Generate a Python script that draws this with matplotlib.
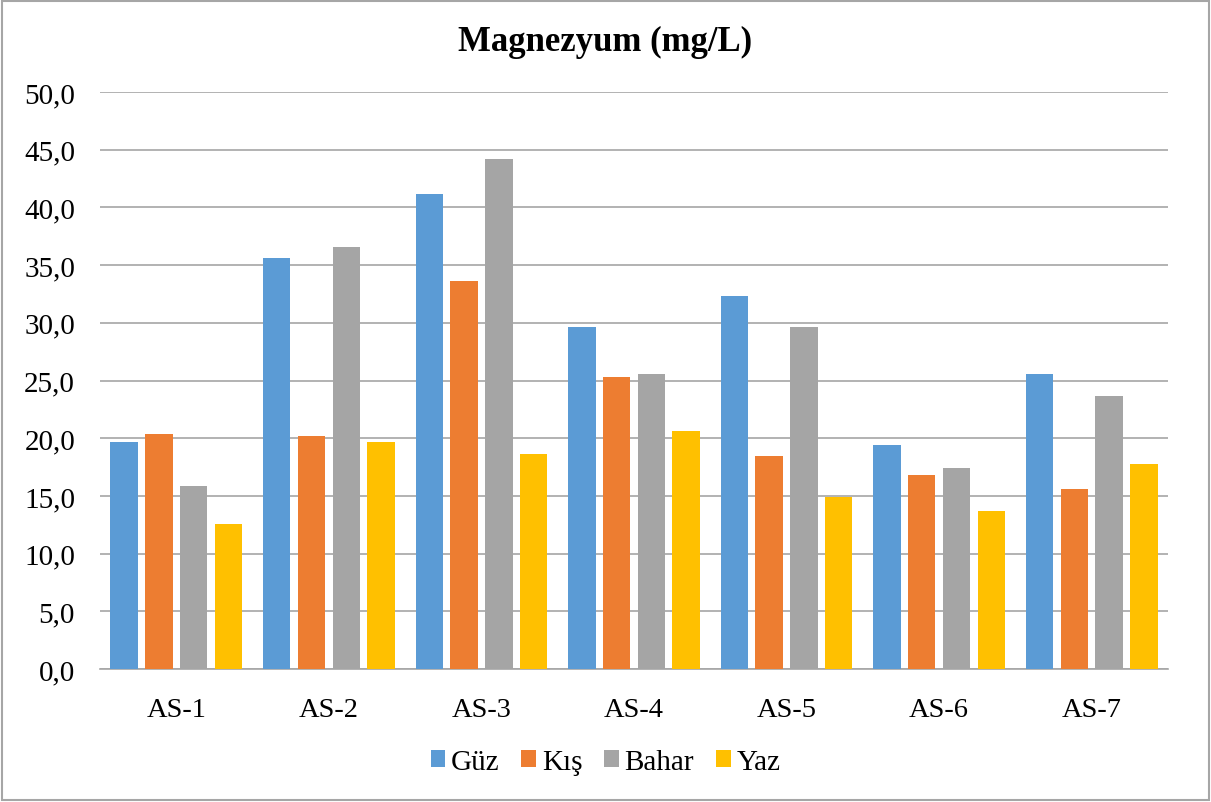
import numpy as np
import matplotlib
matplotlib.use("Agg")
from matplotlib import pyplot as plt
from matplotlib.patches import Rectangle
from matplotlib.ticker import FuncFormatter

stations = ["AS-1", "AS-2", "AS-3", "AS-4", "AS-5", "AS-6", "AS-7"]
guz = [19.7, 35.6, 41.2, 29.6, 32.3, 19.4, 25.6]
kis = [20.4, 20.2, 33.6, 25.3, 18.5, 16.8, 15.6]
bahar = [15.9, 36.6, 44.2, 25.6, 29.6, 17.4, 23.7]
yaz = [12.6, 19.7, 18.6, 20.6, 14.9, 13.7, 17.8]

series = [("Güz", guz, "#5b9bd5"), ("Kış", kis, "#ed7d31"),
          ("Bahar", bahar, "#a5a5a5"), ("Yaz", yaz, "#ffc000")]

plt.rcParams['font.family'] = ['Liberation Serif', 'DejaVu Serif']

fig = plt.figure(figsize=(12.11, 8.03), dpi=100)
ax = fig.add_axes([100 / 1211, 1 - 670 / 803, 1068 / 1211, 577 / 803])

x = np.arange(len(stations))
width = 0.18
step = 0.228
for i, (name, vals, col) in enumerate(series):
	ax.bar(x + (i - 1.5) * step, vals, width, color=col, label=name, zorder=3)

ax.set_xlim(-0.5, len(stations) - 0.5)
ax.set_ylim(0, 50)
ax.set_yticks(np.arange(0, 51, 5))
ax.yaxis.set_major_formatter(FuncFormatter(lambda v, p: f"{v:.1f}".replace(".", ",")))
ax.set_xticks(x)
ax.set_xticklabels(stations)
ax.tick_params(axis='both', length=0, colors='black')
ax.tick_params(axis='y', labelsize=21, pad=18)
ax.tick_params(axis='x', labelsize=20.5, pad=20)
ax.grid(axis='y', color='#a6a6a6', linewidth=1.2, zorder=0)
for s in ['top', 'right', 'left']:
	ax.spines[s].set_visible(False)
ax.spines['bottom'].set_color('#a6a6a6')
ax.spines['bottom'].set_linewidth(1.2)

fig.text(0.5, 1 - 42 / 803, "Magnezyum (mg/L)", ha='center', va='center',
	fontsize=25, fontweight='bold')

fig.legend(loc='center', bbox_to_anchor=(0.5, 1 - 763 / 803), ncol=4, frameon=False,
	fontsize=21, handlelength=0.5, handleheight=0.5, handletextpad=0.2, columnspacing=0.75)

fig.patches.append(Rectangle((2 / 1211, 2 / 803), 1 - 4 / 1211, 1 - 4 / 803,
	transform=fig.transFigure, fill=False, edgecolor='#a6a6a6', linewidth=1.5))

fig.savefig("out.png", dpi=100)
